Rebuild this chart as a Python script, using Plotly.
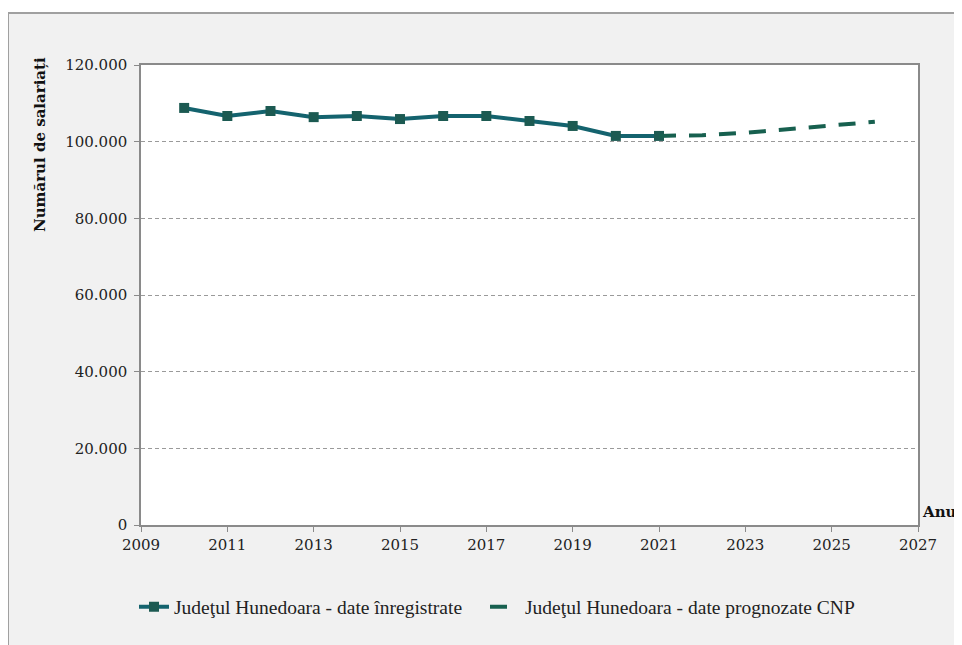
import plotly.graph_objects as go

years_rec = [2010, 2011, 2012, 2013, 2014, 2015, 2016, 2017, 2018, 2019, 2020, 2021]
vals_rec = [108800, 106700, 108000, 106400, 106700, 105900, 106700, 106700, 105400, 104100, 101500, 101500]
years_fc = [2021, 2022, 2023, 2024, 2025, 2026]
vals_fc = [101500, 101700, 102300, 103300, 104100, 105200]
name_rec = "Judeţul Hunedoara - date înregistrate"
name_fc = "Judeţul Hunedoara - date prognozate CNP"
y_ticks = [0, 20000, 40000, 60000, 80000, 100000, 120000]
x_ticks = list(range(2009, 2028, 2))

FONT = "DejaVu Serif"
LFONT = "Liberation Serif"
OFF = 8  # page body margin
W, H = 962, 645
# plot area in reference pixel coordinates
PX0, PX1, PY0, PY1 = 141, 918, 65, 525
L, T = PX0 - OFF, PY0 - OFF
R = W - (PX1 - OFF)
B = H - (PY1 - OFF)
pw, ph = PX1 - PX0, PY1 - PY0

def px(x):
    return (x - PX0) / pw

def py(y):
    return (PY1 - y) / ph

fig = go.Figure()
fig.add_trace(go.Scatter(
    x=years_rec, y=vals_rec, mode="lines+markers", name=name_rec,
    line=dict(color="#14636e", width=4),
    marker=dict(symbol="square", size=10, color="#1c5a52"),
    legend="legend",
))
fig.add_trace(go.Scatter(
    x=years_fc, y=vals_fc, mode="lines", name=name_fc,
    line=dict(color="#17604f", width=4, dash="17px,13px"),
    legend="legend2",
))

legend_common = dict(
    orientation="h", xanchor="left", y=py(607), yanchor="middle",
    font=dict(family=LFONT, size=19.5, color="#222"), bgcolor="rgba(0,0,0,0)",
)

fig.update_layout(
    width=W, height=H,
    margin=dict(l=L, r=R, t=T, b=B),
    paper_bgcolor="#f1f1f1",
    plot_bgcolor="white",
    separators=",.",
    font=dict(family=FONT, size=14, color="#222"),
    showlegend=True,
    legend=dict(x=px(134), **legend_common),
    legend2=dict(x=px(485), **legend_common),
    xaxis=dict(
        range=[2009, 2027], tickvals=x_ticks, showgrid=False,
        showline=True, linecolor="#8a8a8a", linewidth=1.5, mirror=True,
        ticks="outside", ticklen=5, tickcolor="#8a8a8a",
        tickfont=dict(family=FONT, size=15, color="#222"),
        zeroline=False,
    ),
    yaxis=dict(
        range=[0, 120000], tickvals=y_ticks, tickformat=",",
        showgrid=True, gridcolor="#9a9a9a", griddash="4px,3px", gridwidth=1,
        showline=True, linecolor="#8a8a8a", linewidth=1.5, mirror=True,
        ticks="outside", ticklen=5, tickcolor="#8a8a8a", ticklabelstandoff=4,
        tickfont=dict(family=FONT, size=15, color="#222"),
        zeroline=False,
    ),
    shapes=[
        dict(type="rect", xref="x domain", yref="y domain", layer="below",
             x0=0, x1=1, y0=0, y1=1, line=dict(width=0), fillcolor="white"),
        dict(type="rect", xref="paper", yref="paper", layer="below",
             x0=px(-20), x1=px(990), y0=py(13), y1=py(-20),
             line=dict(width=0), fillcolor="white"),
        dict(type="rect", xref="paper", yref="paper", layer="below",
             x0=px(-20), x1=px(8), y0=py(680), y1=py(-20),
             line=dict(width=0), fillcolor="white"),
        dict(type="rect", xref="paper", yref="paper", layer="below",
             x0=px(8), x1=px(985), y0=py(670), y1=py(13),
             line=dict(color="#a0a0a0", width=2), fillcolor="rgba(0,0,0,0)"),
    ],
    annotations=[
        dict(text="<b>Numărul de salariați</b>", xref="paper", yref="paper",
             x=px(40), y=py(145), textangle=-90, showarrow=False,
             xanchor="center", yanchor="middle",
             font=dict(family=FONT, size=15, color="#111")),
        dict(text="<b>Anul</b>", xref="paper", yref="paper",
             x=px(920), y=py(512), showarrow=False,
             xanchor="left", yanchor="middle",
             font=dict(family=FONT, size=15, color="#111")),
    ],
)

fig.write_html("out.html")
